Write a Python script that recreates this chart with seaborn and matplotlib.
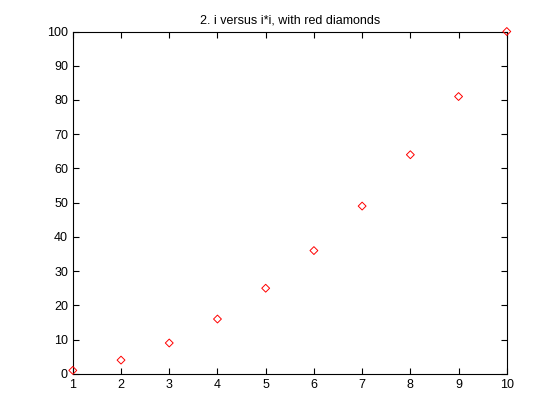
import numpy as np
import matplotlib
matplotlib.use("Agg")
import matplotlib.pyplot as plt
import seaborn as sns

# Data
i_vals = [1, 2, 3, 4, 5, 6, 7, 8, 9, 10]
i_squared = [1, 4, 9, 16, 25, 36, 49, 64, 81, 100]
x_ticks = [1, 2, 3, 4, 5, 6, 7, 8, 9, 10]
y_ticks = [0, 10, 20, 30, 40, 50, 60, 70, 80, 90, 100]

sns.set_style("ticks")
plt.rcParams['font.family'] = ['Liberation Sans', 'DejaVu Sans']

fig = plt.figure(figsize=(5.6, 4.2), dpi=100)
ax = fig.add_axes([0.13, 0.11, 0.775, 0.815])

sns.scatterplot(x=i_vals, y=i_squared, marker='D', s=16, facecolor='none',
                edgecolor='red', linewidth=0.7, ax=ax, clip_on=False, zorder=3)

ax.set_xlim(1, 10)
ax.set_ylim(0, 100)
ax.set_xticks(x_ticks)
ax.set_yticks(y_ticks)
ax.tick_params(direction='in', length=4, width=0.8, labelsize=9, colors='black',
               top=True, right=True)
for s in ax.spines.values():
    s.set_visible(True)
    s.set_color('black')
    s.set_linewidth(0.8)
ax.set_title("2. i versus i*i, with red diamonds", fontsize=9, pad=6, color='black')

fig.savefig("out.png", dpi=100, facecolor='white')
